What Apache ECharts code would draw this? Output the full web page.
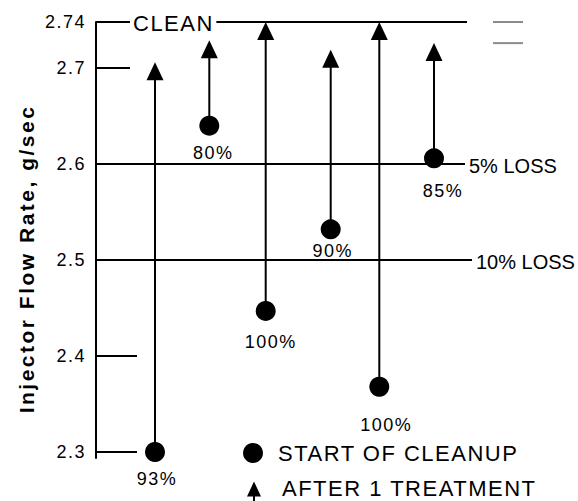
<!DOCTYPE html>
<html>
<head>
<meta charset="utf-8">
<script src="https://cdn.jsdelivr.net/npm/echarts@6/dist/echarts.min.js"></script>
<style>
html, body { margin: 0; padding: 0; background: #fff; }
#chart { width: 578px; height: 501px; }
#chart svg text { letter-spacing: 1.5px; }
#chart svg text[style*="20px"] { letter-spacing: 0; }
#chart svg text[style*="bold"] { letter-spacing: 2.5px; }
</style>
</head>
<body>
<div id="chart"></div>
<script>
// ---- data ----
const categories = ['93%', '80%', '100%', '90%', '100%', '85%'];
const xPositions = [5.9, 11.33, 16.97, 23.47, 28.33, 33.8];
const startOfCleanup = [2.300, 2.640, 2.447, 2.532, 2.368, 2.606];
const afterTreatment = [2.706, 2.729, 2.748, 2.719, 2.748, 2.726];
const tickValues = [2.3, 2.4, 2.5, 2.6, 2.7, 2.748];
const tickLabels = ['2.3', '2.4', '2.5', '2.6', '2.7', '2.74'];
const referenceValues = [2.748, 2.6, 2.5];
const referenceLabels = ['CLEAN', '5% LOSS', '10% LOSS'];
const greyMarkValues = [2.748, 2.726];
const legendNames = ['START OF CLEANUP', 'AFTER 1 TREATMENT'];
const axisTitle = 'Injector Flow Rate, g/sec';

// ---- style-only tables ----
const FONT = '"Liberation Sans", Arial, sans-serif';
const tickMarkEnd = [4.1, 4.1, 0, 0, 3.4, 0];
const refLineEnd = [37.1, 36.9, 37.6];
const labelNudge = [[2, 27], [4, 27], [5, 31], [2, 22], [7, 38], [9, 33]];

const chart = echarts.init(document.getElementById('chart'), null, { renderer: 'svg' });

function lineEl(p0, p1, color, w) {
  return { type: 'line', shape: { x1: p0[0], y1: p0[1], x2: p1[0], y2: p1[1] },
           style: { stroke: color, lineWidth: w } };
}

const option = {
  animation: false,
  backgroundColor: '#fff',
  textStyle: { fontFamily: FONT, color: '#000' },
  grid: { left: 96, right: 2, top: 22, bottom: 43 },
  xAxis: { type: 'value', min: 0, max: 48, show: false },
  yAxis: {
    type: 'value', min: 2.29375, max: 2.748,
    axisLine: { show: true, onZero: false, lineStyle: { color: '#000', width: 2 } },
    axisTick: { show: false },
    splitLine: { show: false },
    axisLabel: {
      customValues: tickValues,
      margin: 10, fontSize: 18, color: '#000', fontFamily: FONT,
      formatter: function (v) {
        let best = 0;
        tickValues.forEach((t, i) => { if (Math.abs(t - v) < Math.abs(tickValues[best] - v)) best = i; });
        return tickLabels[best];
      }
    }
  },
  legend: [
    {
      data: [{ name: legendNames[0], icon: 'circle' }],
      left: 243, top: 442, padding: 0, orient: 'vertical',
      itemWidth: 40, itemHeight: 20, selectedMode: false,
      textStyle: { fontSize: 22, color: '#000', fontFamily: FONT }
    },
    {
      data: [{ name: legendNames[1], icon: 'path://M7,-11 M7,0 L14,15 L0,15 Z M6,15 L8,15 L8,25 L6,25 Z' }],
      left: 247, top: 470.6, padding: 0, orient: 'vertical',
      itemWidth: 46, itemHeight: 36, selectedMode: false,
      textStyle: { fontSize: 22, color: '#000', fontFamily: FONT }
    }
  ],
  graphic: [{
    type: 'text', x: 26, y: 259, rotation: Math.PI / 2,
    style: { text: axisTitle, font: 'bold 21px ' + FONT, fill: '#000',
             textAlign: 'center', textVerticalAlign: 'middle' }
  }],
  series: [
    { // short tick marks
      type: 'custom', silent: true, z: 2,
      data: tickValues.map((v, i) => [i, v]),
      renderItem: function (params, api) {
        const i = api.value(0), v = api.value(1);
        if (!tickMarkEnd[i]) return;
        return lineEl(api.coord([0, v]), api.coord([tickMarkEnd[i], v]), '#000', 2);
      }
    },
    { // reference lines CLEAN / 5% / 10% loss
      type: 'custom', silent: true, z: 2,
      data: referenceValues.map((v, i) => [i, v]),
      renderItem: function (params, api) {
        const i = api.value(0), v = api.value(1);
        const p0 = api.coord([0, v]), p1 = api.coord([refLineEnd[i], v]);
        const children = [lineEl(p0, p1, '#000', 2)];
        if (i === 0) {
          const pt = api.coord([3.4, v]);
          children.push({ type: 'text', x: pt[0], y: pt[1] + 1, z2: 10,
            style: { text: referenceLabels[i], font: '22px ' + FONT, fill: '#000',
                     textAlign: 'left', textVerticalAlign: 'middle',
                     backgroundColor: '#fff', padding: [0, 10, 0, 3] } });
        } else {
          children.push({ type: 'text', x: p1[0] + 4, y: p1[1] + 2,
            style: { text: referenceLabels[i], font: '20px ' + FONT, fill: '#000',
                     textAlign: 'left', textVerticalAlign: 'middle' } });
        }
        return { type: 'group', children: children };
      }
    },
    { // grey marks at right
      type: 'custom', silent: true, z: 2,
      data: greyMarkValues.map((v, i) => [i, v]),
      renderItem: function (params, api) {
        const v = api.value(1);
        return lineEl(api.coord([39.7, v]), api.coord([42.7, v]), '#8c8c8c', 2);
      }
    },
    { // stems
      type: 'custom', silent: true, z: 3,
      data: xPositions.map((x, i) => [x, startOfCleanup[i], afterTreatment[i]]),
      renderItem: function (params, api) {
        const a = api.coord([api.value(0), api.value(1)]);
        const b = api.coord([api.value(0), api.value(2)]);
        return lineEl(a, [b[0], b[1] + 6], '#000', 2);
      }
    },
    {
      name: legendNames[0], type: 'scatter', z: 5, clip: false,
      symbol: 'circle', symbolSize: 20,
      itemStyle: { color: '#000', opacity: 1 },
      label: {
        show: true, position: 'inside', fontSize: 18, color: '#000', fontFamily: FONT,
        formatter: p => categories[p.dataIndex]
      },
      data: xPositions.map((x, i) => ({ value: [x, startOfCleanup[i]], label: { offset: labelNudge[i] } }))
    },
    {
      name: legendNames[1], type: 'scatter', z: 5, clip: false,
      symbol: 'triangle', symbolSize: [17, 18], symbolOffset: [0, 9],
      itemStyle: { color: '#000', opacity: 1 },
      data: xPositions.map((x, i) => [x, afterTreatment[i]])
    }
  ]
};
chart.setOption(option);
</script>
</body>
</html>
